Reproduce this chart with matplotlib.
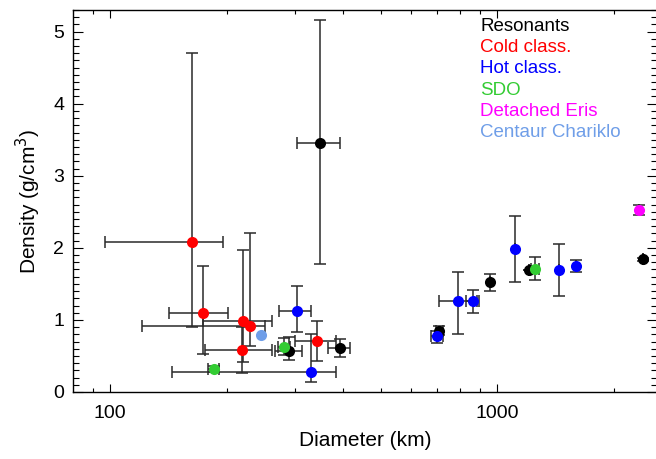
import numpy as np
import matplotlib.pyplot as plt
from matplotlib.ticker import FixedLocator, NullFormatter, MultipleLocator, FixedFormatter

plt.rcParams['font.family'] = ['Liberation Sans', 'DejaVu Sans']

# --- DATA (diameter km, density g/cm3, errors as minus/plus) ---
res_d = [348, 290, 393, 708, 955, 1209, 2374]
res_rho = [3.46, 0.57, 0.61, 0.85, 1.52, 1.69, 1.84]
res_dlo = [45, 24, 27, 15, 0, 0, 0]
res_dhi = [45, 22, 24, 15, 0, 0, 0]
res_rlo = [1.69, 0.12, 0.12, 0.06, 0.12, 0.0, 0.02]
res_rhi = [1.70, 0.19, 0.13, 0.06, 0.12, 0.0, 0.02]

cold_d = [163, 174, 220, 229, 219, 342]
cold_rho = [2.08, 1.09, 0.99, 0.91, 0.58, 0.71]
cold_dlo = [66, 32, 46, 108, 43, 42]
cold_dhi = [32, 27, 41, 22, 43, 42]
cold_rlo = [1.18, 0.56, 0.57, 0.27, 0.32, 0.28]
cold_rhi = [2.62, 0.66, 0.98, 1.30, 0.32, 0.27]

hot_d = [303, 331, 697, 792, 865, 1109, 1440, 1594]
hot_rho = [1.13, 0.28, 0.78, 1.26, 1.26, 1.98, 1.69, 1.75]
hot_dlo = [30, 187, 24, 85, 33, 0, 0, 0]
hot_dhi = [27, 52, 25, 96, 34, 0, 0, 0]
hot_rlo = [0.30, 0.14, 0.10, 0.45, 0.17, 0.46, 0.36, 0.08]
hot_rhi = [0.34, 0.52, 0.07, 0.41, 0.15, 0.46, 0.36, 0.08]

sdo_d = [185, 281, 1251]
sdo_rho = [0.32, 0.63, 1.71]
sdo_dlo = [6, 10, 30]
sdo_dhi = [6, 10, 30]
sdo_rlo = [0.04, 0.12, 0.16]
sdo_rhi = [0.04, 0.12, 0.16]

eris_d = [2323]
eris_rho = [2.52]
eris_rlo = [0.07]
eris_rhi = [0.07]

chariklo_d = [245]
chariklo_rho = [0.79]

groups = [
    (res_d, res_rho, res_dlo, res_dhi, res_rlo, res_rhi, 'black'),
    (cold_d, cold_rho, cold_dlo, cold_dhi, cold_rlo, cold_rhi, '#ff0000'),
    (hot_d, hot_rho, hot_dlo, hot_dhi, hot_rlo, hot_rhi, '#0000ff'),
    (sdo_d, sdo_rho, sdo_dlo, sdo_dhi, sdo_rlo, sdo_rhi, '#33cc33'),
    (eris_d, eris_rho, [0], [0], eris_rlo, eris_rhi, '#ff00ff'),
]

legend_labels = ['Resonants', 'Cold class.', 'Hot class.', 'SDO', 'Detached Eris', 'Centaur Chariklo']
legend_colors = ['black', '#ff0000', '#0000ff', '#33cc33', '#ff00ff', '#6f9ee8']

W, H = 656, 459
fig = plt.figure(figsize=(W / 100, H / 100), dpi=100)
ax = fig.add_axes([72.7 / W, 67 / H, (657 - 72.7) / W, 382 / H])

# error bars first, markers on top
for d, rho, dlo, dhi, rlo, rhi, col in groups:
    ax.errorbar(d, rho, xerr=[dlo, dhi], yerr=[rlo, rhi], fmt='none',
                ecolor='#2a2a2a', elinewidth=1.1, capsize=4.5, capthick=1.1, zorder=2)
for d, rho, dlo, dhi, rlo, rhi, col in groups:
    ax.plot(d, rho, 'o', color=col, markersize=8, markeredgewidth=0, zorder=3)
ax.plot(chariklo_d, chariklo_rho, 'o', color='#6f9ee8', markersize=8, markeredgewidth=0, zorder=3)

ax.set_xscale('log')
ax.set_xlim(80, 2584)
ax.set_ylim(0, 5.3)

ax.xaxis.set_major_locator(FixedLocator([100, 1000]))
ax.xaxis.set_major_formatter(FixedFormatter(['100', '1000']))
ax.xaxis.set_minor_locator(FixedLocator([90, 200, 300, 400, 500, 600, 700, 800, 900, 2000]))
ax.xaxis.set_minor_formatter(NullFormatter())
ax.yaxis.set_major_locator(MultipleLocator(1))
ax.yaxis.set_minor_locator(MultipleLocator(0.1))

ax.tick_params(which='both', direction='in', top=True, right=True, width=0.8, labelsize=14)
ax.tick_params(axis='x', which='major', length=6, pad=9)
ax.tick_params(axis='x', which='minor', length=3)
ax.tick_params(axis='y', which='major', length=7.5, pad=6)
ax.tick_params(axis='y', which='minor', length=4.3)
for s in ax.spines.values():
    s.set_linewidth(1.0)

ax.set_xlabel('Diameter (km)', fontsize=15)
ax.set_ylabel('Density (g/cm$^3$)', fontsize=15)
ax.xaxis.set_label_coords(0.5, -0.102)
ax.yaxis.set_label_coords(-0.05, 0.5)

for i, (lab, col) in enumerate(zip(legend_labels, legend_colors)):
    ypx = 30.7 + 21.3 * i
    ax.text(480 / W, 1 - ypx / H, lab, color=col, fontsize=13.5, va='baseline', ha='left',
            transform=fig.transFigure)

fig.savefig('out.png', dpi=100)
